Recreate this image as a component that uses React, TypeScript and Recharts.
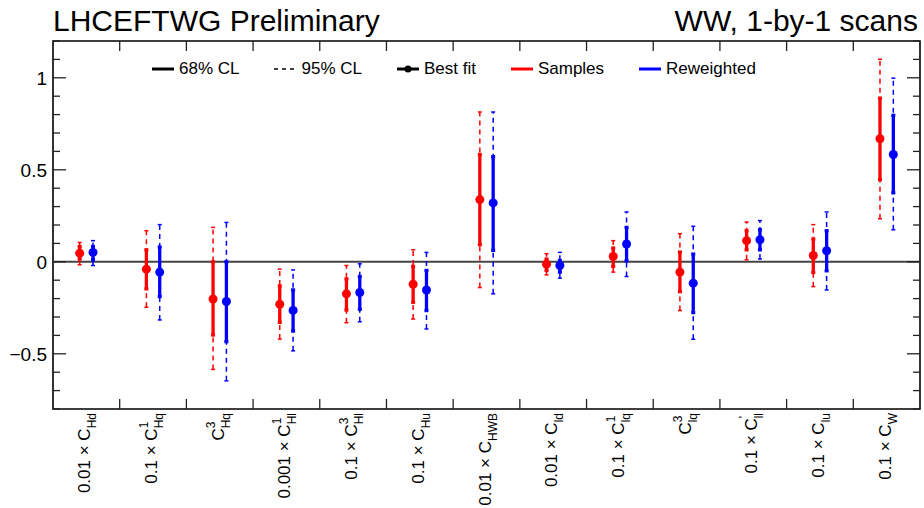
import React from 'react'
import { ScatterChart, Scatter, XAxis, YAxis, ErrorBar, ReferenceLine, ReferenceArea } from 'recharts'

// parameter labels, split in prefix / superscript / subscript
const labelPrefix = ['0.01 × ', '0.1 × ', '', '0.001 × ', '0.1 × ', '0.1 × ', '0.01 × ', '0.01 × ', '0.1 × ', '', '0.1 × ', '0.1 × ', '0.1 × ']
const labelSup = ['', '1', '3', '1', '3', '', '', '', '1', '3', "'", '', '']
const labelSub = ['Hd', 'Hq', 'Hq', 'Hl', 'Hl', 'Hu', 'HWB', 'ld', 'lq', 'lq', 'll', 'lu', 'W']

// Samples (red)
const bestS = [0.047, -0.04, -0.202, -0.231, -0.174, -0.122, 0.338, -0.013, 0.029, -0.056, 0.115, 0.034, 0.669]
const lo68S = [0.015, -0.147, -0.398, -0.329, -0.262, -0.22, 0.093, -0.047, -0.025, -0.162, 0.065, -0.058, 0.447]
const hi68S = [0.083, 0.065, 0.0, -0.131, -0.093, -0.025, 0.583, 0.015, 0.075, 0.053, 0.169, 0.124, 0.889]
const lo95S = [-0.016, -0.247, -0.585, -0.42, -0.331, -0.311, -0.14, -0.071, -0.056, -0.265, 0.011, -0.135, 0.234]
const hi95S = [0.105, 0.169, 0.187, -0.04, -0.02, 0.065, 0.814, 0.044, 0.115, 0.153, 0.216, 0.202, 1.101]

// Reweighted (blue)
const bestR = [0.051, -0.056, -0.216, -0.264, -0.167, -0.153, 0.32, -0.02, 0.097, -0.116, 0.12, 0.06, 0.583]
const lo68R = [0.011, -0.189, -0.434, -0.376, -0.258, -0.265, 0.062, -0.056, 0.005, -0.276, 0.065, -0.049, 0.375]
const hi68R = [0.083, 0.08, 0.0, -0.153, -0.08, -0.047, 0.571, 0.007, 0.187, 0.042, 0.174, 0.169, 0.796]
const lo95R = [-0.02, -0.316, -0.647, -0.484, -0.326, -0.365, -0.174, -0.089, -0.08, -0.421, 0.015, -0.153, 0.174]
const hi95R = [0.115, 0.202, 0.214, -0.044, -0.011, 0.051, 0.814, 0.051, 0.271, 0.193, 0.224, 0.271, 0.998]

const yTicks = [-0.8, -0.7, -0.6, -0.5, -0.4, -0.3, -0.2, -0.1, 0, 0.1, 0.2, 0.3, 0.4, 0.5, 0.6, 0.7, 0.8, 0.9, 1, 1.1, 1.2]
const yLabels = [-0.5, 0, 0.5, 1]
const xBoundaries = [1, 2, 3, 4, 5, 6, 7, 8, 9, 10, 11, 12]

const legendItems = [
  { label: '68% CL', color: '#000', kind: 'solid' },
  { label: '95% CL', color: '#000', kind: 'dashed' },
  { label: 'Best fit', color: '#000', kind: 'point' },
  { label: 'Samples', color: '#ff0000', kind: 'solid' },
  { label: 'Reweighted', color: '#0000ff', kind: 'solid' },
]

const FONT = '"Liberation Sans", Arial, Helvetica, sans-serif'
const W = 924
const H = 508
const PLOT_LEFT = 53
const PLOT_RIGHT = 920
const PLOT_TOP = 41
const PLOT_BOTTOM = 409

const buildRows = (best: number[], lo68: number[], hi68: number[], lo95: number[], hi95: number[], shift: number) =>
  best.map((y, i) => ({
    x: i + 0.5 + shift,
    y,
    e68: [y - lo68[i], hi68[i] - y],
    e95: [y - lo95[i], hi95[i] - y],
  }))

const samples = buildRows(bestS, lo68S, hi68S, lo95S, hi95S, -0.1)
const reweighted = buildRows(bestR, lo68R, hi68R, lo95R, hi95R, 0.1)
const xTicks = [...labelSub.map((_, i) => i + 0.5), ...xBoundaries].sort((a, b) => a - b)

const YTick = ({ y, payload }: any) => {
  const v = payload.value
  const major = yLabels.some((l) => Math.abs(l - v) < 1e-6)
  const len = major ? 13 : 7
  const txt = v < 0 ? '\u2212' + Math.abs(v) : String(v)
  return (
    <g>
      <line x1={PLOT_LEFT} x2={PLOT_LEFT + len} y1={y} y2={y} stroke="#222" strokeWidth={1.3} />
      <line x1={PLOT_RIGHT - len} x2={PLOT_RIGHT} y1={y} y2={y} stroke="#222" strokeWidth={1.3} />
      {major && (
        <text x={PLOT_LEFT - 6} y={y} dy={7} textAnchor="end" fontSize={19} fontFamily={FONT} fill="#000">
          {txt}
        </text>
      )}
    </g>
  )
}

const XTick = ({ x, payload }: any) => {
  const v = payload.value
  if (Math.abs(v - Math.round(v)) < 1e-6) {
    return (
      <g>
        <line x1={x} x2={x} y1={PLOT_BOTTOM} y2={PLOT_BOTTOM - 10} stroke="#222" strokeWidth={1.3} />
        <line x1={x} x2={x} y1={PLOT_TOP} y2={PLOT_TOP + 10} stroke="#222" strokeWidth={1.3} />
      </g>
    )
  }
  const i = Math.floor(v)
  const sup = labelSup[i]
  const supW = sup === "'" ? 2.5 : 6.7
  const bx = x + 4
  const by = PLOT_BOTTOM + 4
  return (
    <text x={bx} y={by} transform={`rotate(-90 ${bx} ${by})`} textAnchor="end" fontSize={17} fontFamily={FONT} fill="#000">
      <tspan>{labelPrefix[i] + 'C'}</tspan>
      {sup && (
        <tspan dy={-9} fontSize={12}>
          {sup}
        </tspan>
      )}
      <tspan dx={sup ? -supW : 0} dy={sup ? 15 : 6} fontSize={12}>
        {labelSub[i]}
      </tspan>
    </text>
  )
}

const dot = (color: string) => (p: any) => <circle cx={p.cx} cy={p.cy} r={4.5} fill={color} />

const LegendMark = ({ kind, color }: { kind: string; color: string }) => (
  <svg width={22} height={10} style={{ marginRight: 5 }}>
    {kind === 'dashed' ? (
      <line x1={0} x2={22} y1={5} y2={5} stroke={color} strokeWidth={1.5} strokeDasharray="4 4" />
    ) : (
      <line x1={0} x2={22} y1={5} y2={5} stroke={color} strokeWidth={3} />
    )}
    {kind === 'point' && <circle cx={11} cy={5} r={3.5} fill={color} />}
  </svg>
)

export default function App() {
  return (
    <div style={{ position: 'absolute', left: 0, top: 0, width: W, height: H, background: '#fff', fontFamily: FONT }}>
      <div style={{ position: 'absolute', left: 53, top: 6, fontSize: 30, lineHeight: '29px', color: '#000' }}>
        LHCEFTWG Preliminary
      </div>
      <div style={{ position: 'absolute', right: 6, top: 6, fontSize: 30, lineHeight: '29px', color: '#000' }}>
        WW, 1-by-1 scans
      </div>
      <ScatterChart width={W} height={H} margin={{ top: PLOT_TOP, right: W - PLOT_RIGHT, bottom: H - PLOT_BOTTOM - 1, left: PLOT_LEFT - 1 }}>
        <XAxis
          type="number"
          dataKey="x"
          domain={[0, 13]}
          ticks={xTicks}
          interval={0}
          tick={(p: any) => <XTick {...p} />}
          tickLine={false}
          axisLine={false}
          tickSize={0}
          tickMargin={0}
          height={1}
        />
        <YAxis
          type="number"
          dataKey="y"
          domain={[-0.8, 1.2]}
          ticks={yTicks}
          interval={0}
          tick={(p: any) => <YTick {...p} />}
          tickLine={false}
          axisLine={false}
          tickSize={0}
          tickMargin={0}
          width={1}
          allowDataOverflow
        />
        <ReferenceLine y={0} stroke="#444" strokeWidth={2} />
        <ReferenceArea x1={0} x2={13} y1={-0.8} y2={1.2} fill="none" stroke="#000" strokeWidth={1.6} ifOverflow="visible" />
        <Scatter data={samples} fill="#ff0000" shape={dot('#ff0000')} isAnimationActive={false}>
          <ErrorBar dataKey="e95" direction="y" width={2} stroke="#ff0000" strokeWidth={1.5} strokeDasharray="5 4" isAnimationActive={false} />
          <ErrorBar dataKey="e68" direction="y" width={2} stroke="#ff0000" strokeWidth={3.3} isAnimationActive={false} />
        </Scatter>
        <Scatter data={reweighted} fill="#0000ff" shape={dot('#0000ff')} isAnimationActive={false}>
          <ErrorBar dataKey="e95" direction="y" width={2} stroke="#0000ff" strokeWidth={1.5} strokeDasharray="5 4" isAnimationActive={false} />
          <ErrorBar dataKey="e68" direction="y" width={2} stroke="#0000ff" strokeWidth={3.3} isAnimationActive={false} />
        </Scatter>
      </ScatterChart>
      <div style={{ position: 'absolute', left: 152, top: 58, height: 22, display: 'flex', alignItems: 'center', gap: 35, fontSize: 17 }}>
        {legendItems.map((it) => (
          <div key={it.label} style={{ display: 'flex', alignItems: 'center' }}>
            <LegendMark kind={it.kind} color={it.color} />
            <span>{it.label}</span>
          </div>
        ))}
      </div>
    </div>
  )
}
